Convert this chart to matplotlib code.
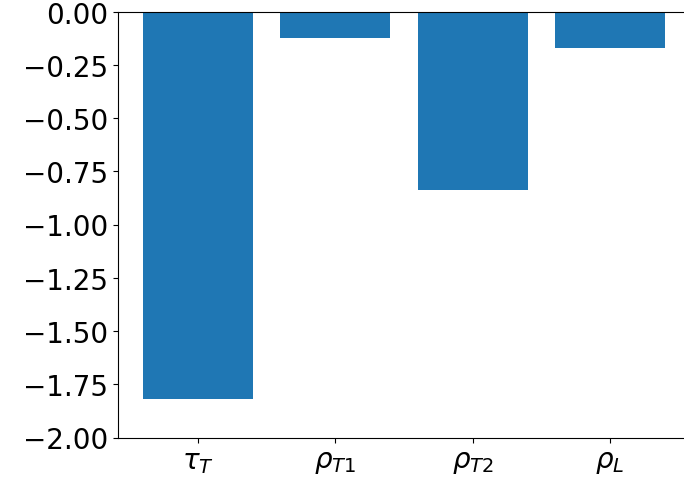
import matplotlib.pyplot as plt
from matplotlib.ticker import FuncFormatter

labels = [r'$\tau_T$', r'$\rho_{T1}$', r'$\rho_{T2}$', r'$\rho_L$']
values = [-1.818, -0.125, -0.837, -0.170]

fig = plt.figure(figsize=(6.84, 4.89), dpi=100)
ax = fig.add_axes([118 / 684, 1 - 438.5 / 489, 1 - 118 / 684, 426 / 489])

ax.bar(range(len(values)), values, width=0.8, color='#1f77b4')
ax.set_xticks(range(len(values)))
ax.set_xticklabels(labels)
ax.set_xlim(-0.583, 3.54)
ax.set_ylim(-2.0, 0.0)
ax.set_yticks([-2.0, -1.75, -1.5, -1.25, -1.0, -0.75, -0.5, -0.25, 0.0])
ax.yaxis.set_major_formatter(FuncFormatter(lambda v, p: f'{v:.2f}'.replace('-', '\u2212')))
ax.tick_params(labelsize=20)
ax.spines['right'].set_visible(False)

fig.savefig('out.png', dpi=100)
